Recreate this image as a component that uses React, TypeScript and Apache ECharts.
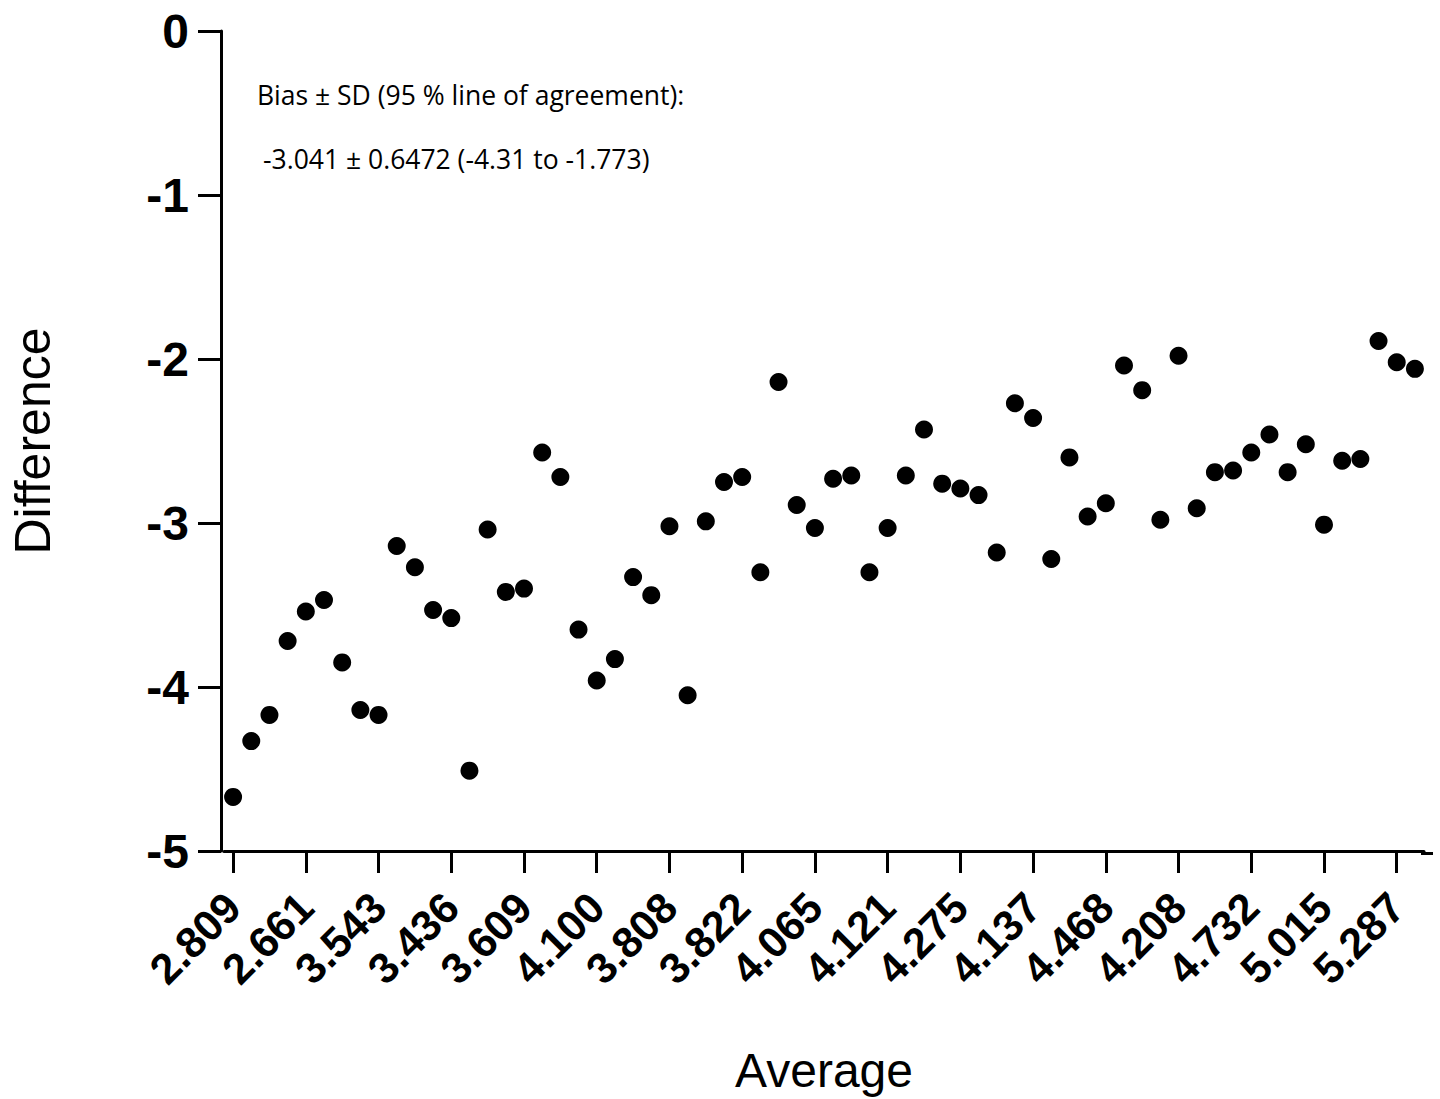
import React, { useEffect, useRef } from "react";
import * as echarts from "echarts";

// Tick labels shown on the x axis (every 4th observation's average)
const tickLabels = [
  "2.809", "2.661", "3.543", "3.436", "3.609", "4.100", "3.808", "3.822", "4.065",
  "4.121", "4.275", "4.137", "4.468", "4.208", "4.732", "5.015", "5.287",
];

// Differences, in observation order
const differences = [
  -4.67, -4.33, -4.17, -3.72, -3.54, -3.47, -3.85, -4.14, -4.17, -3.14,
  -3.27, -3.53, -3.58, -4.51, -3.04, -3.42, -3.40, -2.57, -2.72, -3.65,
  -3.96, -3.83, -3.33, -3.44, -3.02, -4.05, -2.99, -2.75, -2.72, -3.30,
  -2.14, -2.89, -3.03, -2.73, -2.71, -3.30, -3.03, -2.71, -2.43, -2.76,
  -2.79, -2.83, -3.18, -2.27, -2.36, -3.22, -2.60, -2.96, -2.88, -2.04,
  -2.19, -2.98, -1.98, -2.91, -2.69, -2.68, -2.57, -2.46, -2.69, -2.52,
  -3.01, -2.62, -2.61, -1.89, -2.02, -2.06,
];

// Observation ids used as categories
const observationIds = differences.map((_, i) => String(i + 1));

const annotationLines = [
  "Bias ± SD (95 % line of agreement):",
  "-3.041 ± 0.6472 (-4.31 to -1.773)",
];

const AXIS_FONT = "Liberation Sans, Arial, sans-serif";
const NOTE_FONT = "Open Sans, sans-serif";

const GRID_LEFT = 221;
const GRID_TOP = 31;
const GRID_WIDTH = 1203;
const GRID_HEIGHT = 822;

export default function App() {
  const ref = useRef<HTMLDivElement>(null);

  useEffect(() => {
    if (!ref.current) return;
    const chart = echarts.init(ref.current, undefined, { renderer: "svg" });
    const axisY = GRID_TOP + GRID_HEIGHT + 0.5;
    const option: any = {
      animation: false,
      backgroundColor: "#fff",
      grid: {
        left: GRID_LEFT,
        top: GRID_TOP,
        width: GRID_WIDTH,
        height: GRID_HEIGHT,
        containLabel: false,
      },
      xAxis: {
        type: "category",
        data: observationIds,
        boundaryGap: true,
        axisLine: { show: true, onZero: false, lineStyle: { color: "#000", width: 3 } },
        axisTick: {
          show: true,
          interval: 3,
          alignWithLabel: true,
          length: 22,
          lineStyle: { color: "#000", width: 3 },
        },
        axisLabel: {
          interval: 3,
          rotate: 45,
          margin: 49,
          color: "#000",
          fontSize: 43,
          fontWeight: "bold",
          fontFamily: AXIS_FONT,
          formatter: (_v: string, idx: number) => tickLabels[idx / 4] ?? "",
        },
        splitLine: { show: false },
        name: "Average",
        nameLocation: "middle",
        nameGap: 195,
        nameTextStyle: { color: "#000", fontSize: 48, fontFamily: AXIS_FONT },
      },
      yAxis: {
        type: "value",
        min: -5,
        max: 0,
        interval: 1,
        offset: 3,
        axisLine: { show: true, lineStyle: { color: "#000", width: 3 } },
        axisTick: { show: true, length: 23, lineStyle: { color: "#000", width: 3 } },
        axisLabel: {
          margin: 32,
          color: "#000",
          fontSize: 48,
          fontWeight: "bold",
          fontFamily: AXIS_FONT,
        },
        splitLine: { show: false },
        name: "Difference",
        nameLocation: "middle",
        nameGap: 163,
        nameTextStyle: { color: "#000", fontSize: 50, fontFamily: AXIS_FONT },
      },
      series: [
        {
          type: "scatter",
          data: differences,
          symbol: "circle",
          symbolSize: 18,
          itemStyle: { color: "#000", opacity: 1 },
        },
      ],
      graphic: [
        {
          type: "line",
          shape: {
            x1: GRID_LEFT + GRID_WIDTH - 3,
            y1: axisY,
            x2: 1433,
            y2: axisY,
          },
          style: { stroke: "#000", lineWidth: 3 },
          silent: true,
        },
        {
          type: "text",
          left: 257,
          top: 81,
          style: {
            text: annotationLines[0],
            fill: "#000",
            fontSize: 26.5,
            fontFamily: NOTE_FONT,
          },
        },
        {
          type: "text",
          left: 263,
          top: 145,
          style: {
            text: annotationLines[1],
            fill: "#000",
            fontSize: 26.5,
            fontFamily: NOTE_FONT,
          },
        },
      ],
    };
    chart.setOption(option);
    return () => chart.dispose();
  }, []);

  return (
    <div
      ref={ref}
      style={{ position: "fixed", left: 0, top: 0, width: 1440, height: 1099 }}
    />
  );
}
